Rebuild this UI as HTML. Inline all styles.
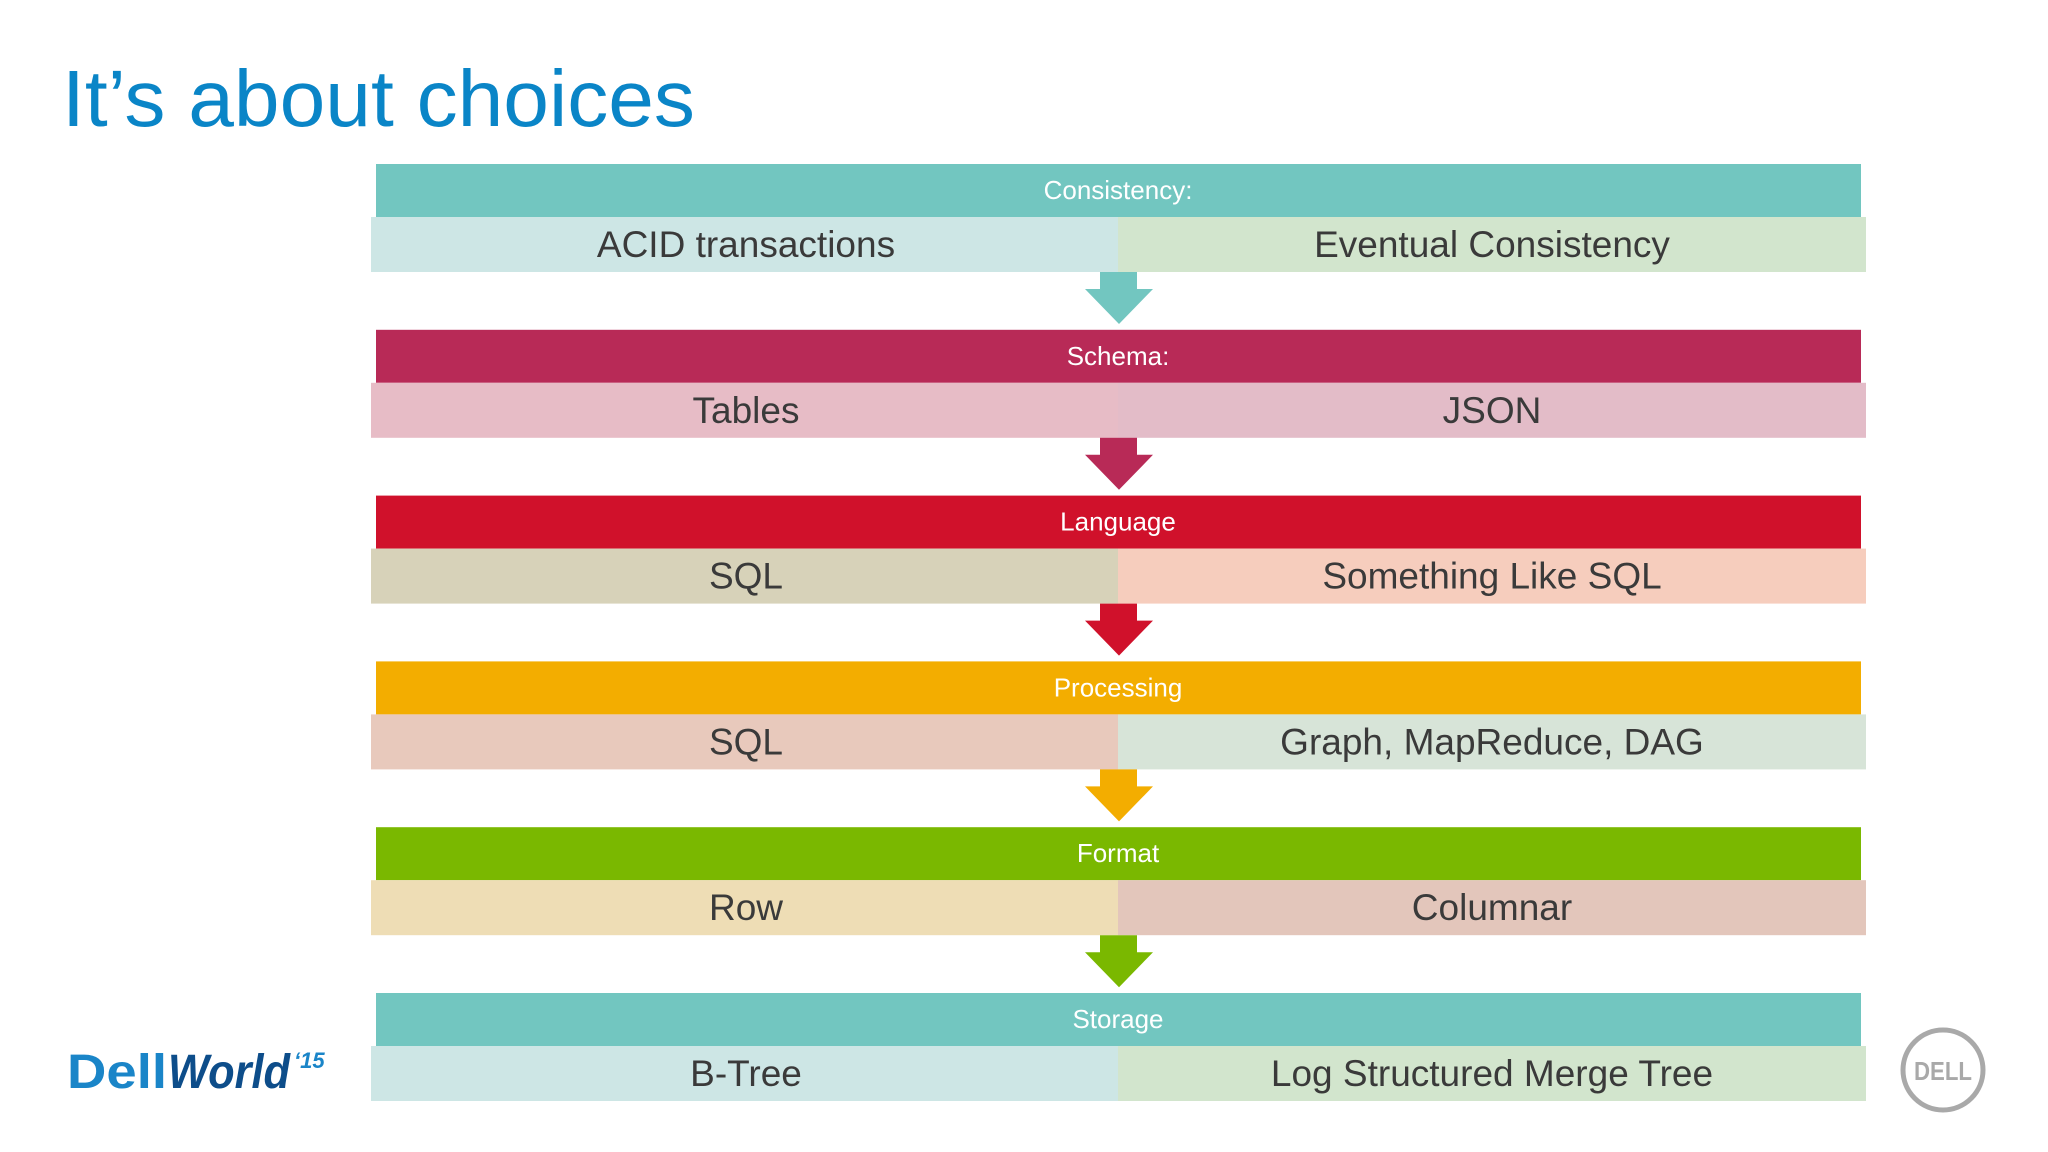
<!DOCTYPE html>
<html><head><meta charset="utf-8"><style>
html,body{margin:0;padding:0;background:#fff;}
svg{display:block;font-family:"Liberation Sans",sans-serif;}
</style></head><body>
<svg id="s" width="2048" height="1152" viewBox="0 0 2048 1152" xmlns="http://www.w3.org/2000/svg">
<rect x="0" y="0" width="2048" height="1152" fill="#fff"/>
<text x="62" y="126" font-size="80" fill="#0a85c7" textLength="633" lengthAdjust="spacingAndGlyphs">It’s about choices</text>
<g>
<text x="67" y="1088" font-size="48" font-weight="bold" fill="#1a85c8" textLength="100" lengthAdjust="spacingAndGlyphs">Dell</text>
<text x="168" y="1088" font-size="48" font-weight="bold" font-style="italic" fill="#0d4d8a" textLength="122" lengthAdjust="spacingAndGlyphs">World</text>
<text x="294" y="1068" font-size="22" font-weight="bold" font-style="italic" fill="#1a85c8">‘15</text>
</g>
<g>
<circle cx="1943" cy="1070" r="40" fill="none" stroke="#a9a9a9" stroke-width="5"/>
<text x="1943" y="1080" font-size="26" font-weight="bold" fill="#a9a9a9" text-anchor="middle" textLength="58" lengthAdjust="spacingAndGlyphs">DELL</text>
</g>
<g id="flow"></g>
</svg>
<script>
const categories = ["Consistency:", "Schema:", "Language", "Processing", "Format", "Storage"];
const leftOptions = ["ACID transactions", "Tables", "SQL", "SQL", "Row", "B-Tree"];
const rightOptions = ["Eventual Consistency", "JSON", "Something Like SQL", "Graph, MapReduce, DAG", "Columnar", "Log Structured  Merge Tree"];
const headerColors = ["#72c6c0", "#b82a57", "#d0112b", "#f3ad00", "#7ab800", "#72c6c0"];
const leftColors = ["#cde6e5", "#e7bcc6", "#d7d2b9", "#e8c9bc", "#eeddb5", "#cde6e5"];
const rightColors = ["#d2e5cd", "#e3bcc8", "#f6cdbd", "#d7e4d8", "#e3c6bb", "#d2e5cd"];
const NS = "http://www.w3.org/2000/svg";
const g = document.getElementById("flow");
function mk(tag, attrs, parent){const e=document.createElementNS(NS,tag);for(const k in attrs)e.setAttribute(k,attrs[k]);(parent||g).appendChild(e);return e;}
const top0 = 164, step = 165.8, hh = 53, sh = 55;
categories.forEach((c,i)=>{
  const y = top0 + i*step;
  const grp = mk("g",{});
  
  
  const h = mk("rect",{x:376,y:y,width:1485,height:hh,fill:headerColors[i]},grp);
  
  
  const ht = mk("text",{x:1118,y:y+35,"font-size":26,fill:"#fff","text-anchor":"middle"},grp);
  ht.textContent = c;
  
  
  const l = mk("rect",{x:371,y:y+hh,width:747,height:sh,fill:leftColors[i]},grp);
  
  
  const r = mk("rect",{x:1118,y:y+hh,width:748,height:sh,fill:rightColors[i]},grp);
  
  
  const lt = mk("text",{x:746,y:y+hh+40,"font-size":37,fill:"#3a3a3a","text-anchor":"middle"},grp);
  lt.textContent = leftOptions[i];
  
  
  const rt = mk("text",{x:1492,y:y+hh+40,"font-size":37,fill:"#3a3a3a","text-anchor":"middle"},grp);
  rt.textContent = rightOptions[i];
  
  
  if(i < categories.length-1){
    const ay = y+hh+sh;
    const a = mk("path",{d:`M1100 ${ay} H1137 V${ay+17} H1153 L1119 ${ay+52} L1085 ${ay+17} H1100 Z`,fill:headerColors[i]},grp);
    
    
  }
});
</script>
</body></html>
